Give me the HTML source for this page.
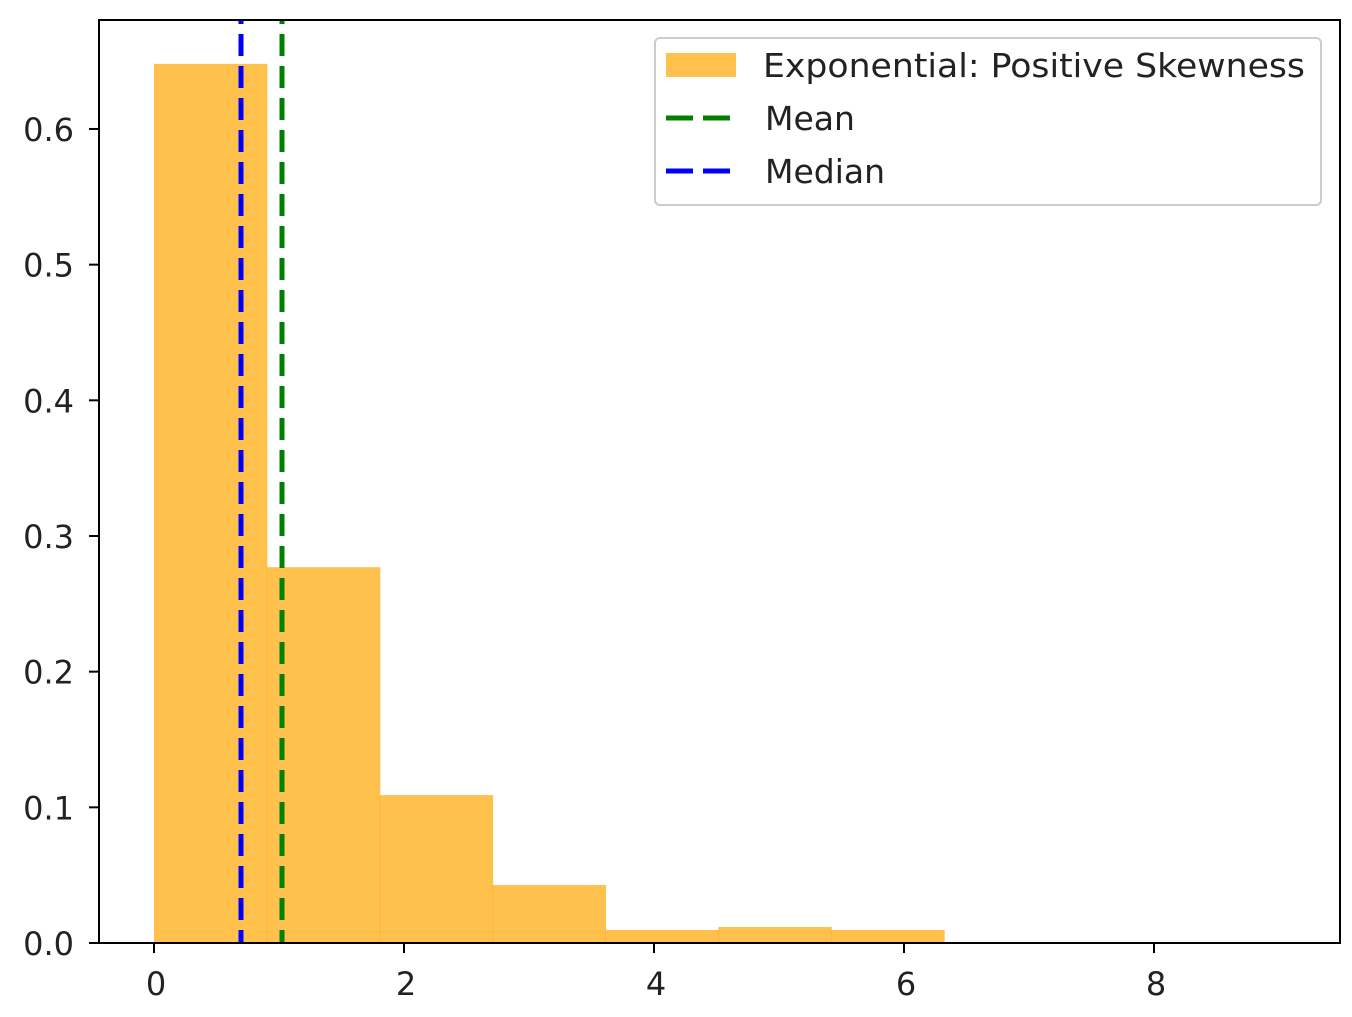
<!DOCTYPE html>
<html><head><meta charset="utf-8"><style>
body{margin:0;background:#fff}
svg text{font-family:"DejaVu Sans","Liberation Sans",sans-serif;fill:#222}
</style></head><body>
<svg id="chart" width="1352" height="1012" viewBox="0 0 1352 1012" xmlns="http://www.w3.org/2000/svg">
<g id="bars"></g>
<g id="lines"></g>
<rect x="99" y="20" width="1241" height="923" fill="none" stroke="#000" stroke-width="2"/>
<g id="xticks"></g>
<g id="yticks"></g>
<g>
<rect x="655" y="38" width="666" height="167" rx="5" fill="#fff" fill-opacity="0.8" stroke="#ccc" stroke-width="2"/>
<rect x="666" y="53" width="70" height="24" fill="#FFA500" fill-opacity="0.7"/>
<text x="763" y="77" font-size="33" textLength="542" lengthAdjust="spacingAndGlyphs">Exponential: Positive Skewness</text>
<line x1="666" x2="736" y1="118" y2="118" stroke="green" stroke-width="5" stroke-dasharray="27,10"/>
<text x="765" y="130" font-size="33">Mean</text>
<line x1="666" x2="736" y1="171" y2="171" stroke="blue" stroke-width="5" stroke-dasharray="27,10"/>
<text x="765" y="183" font-size="33">Median</text>
</g>
</svg>
<script>
const binEdgesStart = 0;
const binWidth = 0.903;
const densities = [0.648, 0.277, 0.109, 0.0427, 0.0096, 0.0118, 0.0096, 0, 0, 0.0005];
const meanValue = 1.024;
const medianValue = 0.696;
const xTicks = [0, 2, 4, 6, 8];
const yTicks = [0.0, 0.1, 0.2, 0.3, 0.4, 0.5, 0.6];

const NS = "http://www.w3.org/2000/svg";
function xs(v){ return 154 + v * 125; }
function ys(v){ return 943 - v * 1356.7; }
function mk(tag, attrs, parent){
  const e = document.createElementNS(NS, tag);
  for (const k in attrs) e.setAttribute(k, attrs[k]);
  parent.appendChild(e);
  return e;
}
const bars = document.getElementById('bars');
densities.forEach((d, i) => {
  const x0 = xs(binEdgesStart + i * binWidth), x1 = xs(binEdgesStart + (i + 1) * binWidth);
  const r = mk('rect', {x: x0, y: ys(d), width: x1 - x0 + 0.5, height: ys(0) - ys(d), fill: '#FFA500', 'fill-opacity': 0.7}, bars);
  
  
});
const lines = document.getElementById('lines');
const med = mk('line', {x1: xs(medianValue), x2: xs(medianValue), y1: 20, y2: 943, stroke: 'blue', 'stroke-width': 5, 'stroke-dasharray': '22,10', 'stroke-dashoffset': '-14'}, lines);


const mean = mk('line', {x1: xs(meanValue), x2: xs(meanValue), y1: 20, y2: 943, stroke: 'green', 'stroke-width': 5, 'stroke-dasharray': '22,10', 'stroke-dashoffset': '-14'}, lines);



const xg = document.getElementById('xticks');
xTicks.forEach(t => {
  const l = mk('line', {x1: xs(t), x2: xs(t), y1: 943, y2: 953, stroke: '#000', 'stroke-width': 2}, xg);
  
  
  const tx = mk('text', {x: xs(t) + 2, y: 995, 'font-size': 32, 'text-anchor': 'middle'}, xg);
  tx.textContent = String(t);
  
  
});
const yg = document.getElementById('yticks');
yTicks.forEach(t => {
  const l = mk('line', {x1: 89, x2: 99, y1: ys(t), y2: ys(t), stroke: '#000', 'stroke-width': 2}, yg);
  
  
  const tx = mk('text', {x: 74, y: ys(t) + 12, 'font-size': 32, 'text-anchor': 'end'}, yg);
  tx.textContent = t.toFixed(1);
  
  
});
</script>
</body></html>
